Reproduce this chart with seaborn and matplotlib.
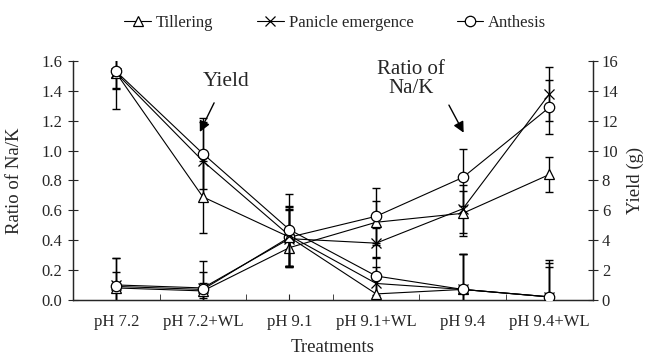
import matplotlib
matplotlib.use("Agg")
import matplotlib.pyplot as plt
from matplotlib.lines import Line2D
import seaborn as sns
import pandas as pd

### Na/K ratio (left axis) and yield (right axis) across treatments

treatments = ["pH 7.2", "pH 7.2+WL", "pH 9.1", "pH 9.1+WL", "pH 9.4", "pH 9.4+WL"]
stages = ["Tillering", "Panicle emergence", "Anthesis"]

# ratio of Na/K
ratio_tillering = [0.08, 0.06, 0.35, 0.52, 0.58, 0.84]
ratio_panicle = [0.10, 0.08, 0.41, 0.38, 0.61, 1.38]
ratio_anthesis = [0.09, 0.07, 0.42, 0.56, 0.82, 1.29]
ratio_err_tillering = [0.11, 0.05, 0.12, 0.14, 0.15, 0.12]
ratio_err_panicle = [0.18, 0.11, 0.19, 0.10, 0.16, 0.18]
ratio_err_anthesis = [0.19, 0.19, 0.19, 0.19, 0.19, 0.18]

# yield (g)
yield_tillering = [15.2, 6.9, 4.2, 0.4, 0.7, 0.2]
yield_panicle = [15.2, 9.3, 4.3, 1.1, 0.7, 0.2]
yield_anthesis = [15.3, 9.8, 4.7, 1.6, 0.7, 0.2]
yield_err_tillering = [2.4, 2.4, 2.0, 1.0, 2.4, 2.0]
yield_err_panicle = [1.0, 2.6, 2.0, 1.1, 2.4, 2.3]
yield_err_anthesis = [1.2, 2.4, 2.4, 1.3, 2.4, 2.5]

sns.set_style("ticks")
plt.rcParams["font.family"] = ["Liberation Serif", "DejaVu Serif"]
plt.rcParams["axes.linewidth"] = 0.9

markers = {"Tillering": "^", "Panicle emergence": "x", "Anthesis": "o"}
ratios = {"Tillering": (ratio_tillering, ratio_err_tillering),
          "Panicle emergence": (ratio_panicle, ratio_err_panicle),
          "Anthesis": (ratio_anthesis, ratio_err_anthesis)}
yields = {"Tillering": (yield_tillering, yield_err_tillering),
          "Panicle emergence": (yield_panicle, yield_err_panicle),
          "Anthesis": (yield_anthesis, yield_err_anthesis)}

fig = plt.figure(figsize=(6.45, 3.57), dpi=100)
ax = fig.add_axes([0.113, 0.160, 0.806, 0.669])
ax2 = ax.twinx()

pos = list(range(len(treatments)))


def draw(axis, table):
    for s in stages:
        vals, errs = table[s]
        df = pd.DataFrame({"pos": pos, "val": vals})
        axis.errorbar(pos, vals, yerr=errs, fmt="none", ecolor="black",
                      elinewidth=1.0, capsize=3, capthick=1.0, zorder=2)
        sns.lineplot(data=df, x="pos", y="val", ax=axis, color="black",
                     linewidth=0.8, marker=markers[s], markersize=7.5,
                     markerfacecolor="white" if s != "Panicle emergence" else "black",
                     markeredgecolor="black", markeredgewidth=0.9, zorder=3)


draw(ax, ratios)
draw(ax2, yields)

ax.set_xlim(-0.5, 5.5)
ax.set_ylim(0, 1.6)
ax2.set_ylim(0, 16)
ax.set_xticks(pos)
ax.set_xticklabels(treatments, fontsize=12)
ax.set_xticks([p + 0.5 for p in pos], minor=True)
ax.tick_params(axis="x", which="both", direction="in", length=4, pad=10)
ax.set_yticks([i * 0.2 for i in range(9)])
ax.set_yticklabels([f"{i * 0.2:.1f}" for i in range(9)], fontsize=12)
ax.tick_params(axis="y", direction="inout", length=7, pad=4)
ax2.set_yticks(range(0, 17, 2))
ax2.tick_params(axis="y", direction="inout", length=7, labelsize=12, pad=3)
ax.set_xlabel("Treatments", fontsize=13.5, labelpad=7)
ax.set_ylabel("Ratio of Na/K", fontsize=13.5, labelpad=13)
ax2.set_ylabel("Yield (g)", fontsize=13.5, labelpad=6)
for a in (ax, ax2):
    a.spines["top"].set_visible(False)
ax2.spines["right"].set_visible(True)

# annotation texts and arrows
arrow = dict(arrowstyle="-|>", color="black", lw=1.0, shrinkA=0, shrinkB=0,
             mutation_scale=16)
ax.text(1.27, 1.46, "Yield", fontsize=15.5, ha="center", va="center")
ax.annotate("", xy=(0.965, 1.125), xytext=(1.13, 1.32), arrowprops=arrow)
ax.text(3.40, 1.48, "Ratio of\nNa/K", fontsize=15, ha="center", va="center",
        linespacing=1.05)
ax.annotate("", xy=(4.01, 1.12), xytext=(3.84, 1.305), arrowprops=arrow)

handles = [Line2D([], [], color="black", lw=0.8, marker=markers[s], markersize=7.5,
                  markerfacecolor="white", markeredgecolor="black", markeredgewidth=0.9)
           for s in stages]
fig.legend(handles, stages, loc="upper center", bbox_to_anchor=(0.52, 1.0), ncol=3,
           frameon=False, fontsize=12, handlelength=1.6, handletextpad=0.3,
           columnspacing=2.6)

fig.savefig("out.png", dpi=100)
